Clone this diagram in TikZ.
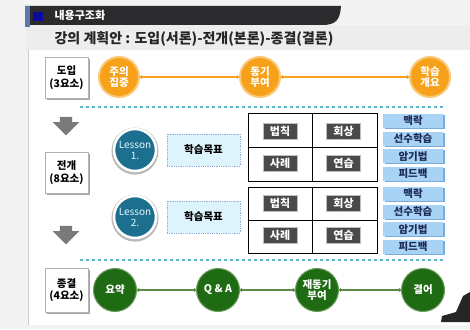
\documentclass[tikz,border=0pt]{standalone}
\usepackage{fontspec}
\setmainfont{Noto Sans CJK KR}
\usetikzlibrary{arrows.meta,positioning,shapes.arrows,shadows}
\definecolor{hdrDark}{HTML}{2B2B2E}
\definecolor{hdrBlue}{HTML}{0A0A9E}
\definecolor{hdrEdge}{HTML}{5A78AE}
\definecolor{bandGray}{HTML}{EDEDED}
\definecolor{pageGray}{HTML}{F3F3F3}
\definecolor{orgFill}{HTML}{F7A11A}
\definecolor{orgRing}{HTML}{FBC878}
\definecolor{grnFill}{HTML}{1F6B14}
\definecolor{grnRing}{HTML}{6E9C5E}
\definecolor{grnLine}{HTML}{5A8A45}
\definecolor{lesFill}{HTML}{1C6F8F}
\definecolor{goalFill}{HTML}{DDF4FD}
\definecolor{goalDraw}{HTML}{8FAFD8}
\definecolor{tagFill}{HTML}{4A4A4A}
\definecolor{cueFill}{HTML}{A8D3F5}
\definecolor{cueShade}{HTML}{78ACDA}
\definecolor{cueText}{HTML}{1B2A55}
\definecolor{dashCyan}{HTML}{5BB8C8}
\definecolor{arrGray}{HTML}{7A7A7A}
\tikzset{
  stage/.style ={draw=gray!60, fill=white, align=center, font=\fontsize{10.5}{12.5}\selectfont\bfseries,
                 inner sep=0pt, minimum width=43pt, drop shadow={shadow xshift=2pt, shadow yshift=-2pt, fill=gray!70, opacity=1}},
  orgdot/.style={circle, fill=orgFill, draw=orgRing, line width=2pt, minimum size=40pt, inner sep=0pt,
                 align=center, text=white, font=\fontsize{10.5}{11.5}\selectfont\bfseries},
  grndot/.style={circle, fill=grnFill, draw=grnRing, line width=1pt, minimum size=43pt, inner sep=0pt,
                 align=center, text=white, font=\fontsize{10.5}{11.5}\selectfont\bfseries},
  lesson/.style={circle, fill=lesFill, draw=white, line width=2.5pt, minimum size=42pt, inner sep=0pt,
                 align=center, text=cyan!10, font=\fontsize{10}{11}\selectfont,
                 drop shadow={shadow xshift=0pt, shadow yshift=-1pt, shadow scale=1.12, fill=gray!55, opacity=1}},
  goal/.style  ={draw=goalDraw, densely dotted, line width=0.8pt, fill=goalFill, minimum width=73pt, minimum height=32pt,
                 font=\fontsize{10.5}{12}\selectfont\bfseries},
  grid/.style  ={draw=black, line width=0.9pt, minimum width=129pt, inner sep=0pt},
  tag/.style   ={draw=gray!50, fill=tagFill, text=white, minimum width=34pt, minimum height=16pt,
                 inner sep=0pt, font=\fontsize{11}{12}\selectfont\bfseries},
  cue/.style   ={fill=cueFill, text=cueText, minimum width=60pt, minimum height=14pt, inner sep=0pt,
                 font=\fontsize{10.5}{12}\selectfont\bfseries,
                 drop shadow={shadow xshift=1.5pt, shadow yshift=-1.2pt, fill=cueShade, opacity=1}},
  down/.style  ={single arrow, fill=arrGray, shape border rotate=270, minimum height=17pt,
                 inner sep=6pt, single arrow head extend=7pt, single arrow head indent=0pt},
  link/.style  ={{Circle[length=3pt]}-{Circle[length=3pt]}, line width=1.3pt},
  sep/.style   ={dashCyan, dashed, line width=1.4pt},
}

\begin{document}
\begin{tikzpicture}[x=1pt, y=-1pt]
  \useasboundingbox (0,0) rectangle (470,329);
  % page and header
  \fill[pageGray] (0,0) rectangle (470,329);
  \fill[white] (28,50) rectangle (470,325);
  \draw[gray!40] (28,50) -- (28,325);
  \fill[bandGray] (25,25) rectangle (470,50);
  \fill[hdrDark] (25,6) -- (341,6) .. controls (340,20) and (336,25) .. (322,25) -- (25,25) -- cycle;
  \fill[hdrEdge] (25,6) rectangle (30,27);
  \fill[hdrBlue] (33,12) rectangle (43,21);
  \node[anchor=west, text=white, font=\fontsize{11}{12}\selectfont\bfseries] (hdr) at (51,15.5) {내용구조화};
  \node[anchor=west, text=black!85, font=\fontsize{14}{15}\selectfont\bfseries] (title) at (51,39)
        {강의 계획안 : 도입(서론)-전개(본론)-종결(결론)};

  % 도입
  \node[stage, minimum height=41pt] (intro) at (66.5,77.5) {도입\\(3요소)};
  \node[orgdot] (o1) at (119,77) {주의\\집중};
  \node[orgdot] (o2) at (260,77) {동기\\부여};
  \node[orgdot] (o3) at (430,77) {학습\\개요};
  \foreach \a/\b in {o1/o2, o2/o3} \draw[link, orgFill] (\a) -- (\b);
  \draw[sep] (80,107) -- (445,107);

  % 전개
  \node[down] (d1) at (66,123) {};
  \node[stage, minimum height=41pt] (body) at (66.5,172.5) {전개\\(8요소)};
  \node[down] (d2) at (66,232) {};
  \foreach \i/\y in {1/150, 2/217} {
    \node[lesson] (les\i) at (135,\y) {Lesson\\\i.};
    \node[goal] (goal\i) at (203.5,\y) {학습목표};
  }
  \node[grid, minimum height=68pt] (g1) at (312.5,147) {};
  \node[grid, minimum height=66pt] (g2) at (312.5,220) {};
  \foreach \g in {g1,g2} {
    \draw[line width=0.9pt] (\g.north) -- (\g.south);
    \draw[line width=0.9pt] (\g.west) -- (\g.east);
  }
  \foreach \i/\ya/\yb in {1/131/163.5, 2/203.5/235} {
    \node[tag] (law\i) at (280,\ya) {법칙};
    \node[tag] (rec\i) at (343.5,\ya) {회상};
    \node[tag] (ex\i)  at (280,\yb) {사례};
    \node[tag] (pr\i)  at (343.5,\yb) {연습};
  }
  \foreach \i/\y in {1/121, 2/194} {
    \node[cue] (ctx\i) at (413,\y) {맥락};
    \node[cue, below=3.2pt of ctx\i] (pre\i) {선수학습};
    \node[cue, below=3.2pt of pre\i] (mem\i) {암기법};
    \node[cue, below=3.2pt of mem\i] (fb\i) {피드백};
  }
  \draw[sep] (80,260) -- (445,260);

  % 종결
  \node[stage, minimum height=44pt] (end) at (66.5,290) {종결\\(4요소)};
  \node[grndot] (e1) at (115,290) {요약};
  \node[grndot] (e2) at (218,290) {Q \& A};
  \node[grndot] (e3) at (317,290) {재동기\\부여};
  \node[grndot] (e4) at (423,290) {결어};
  \foreach \a/\b in {e1/e2, e2/e3, e3/e4} \draw[link, grnLine] (\a) -- (\b);

  % corner figure
  \fill[black!85] (441,322) -- (442,316) -- (456,312) -- (463,296) -- (470,292) -- (470,322) -- cycle;
\end{tikzpicture}
\end{document}
